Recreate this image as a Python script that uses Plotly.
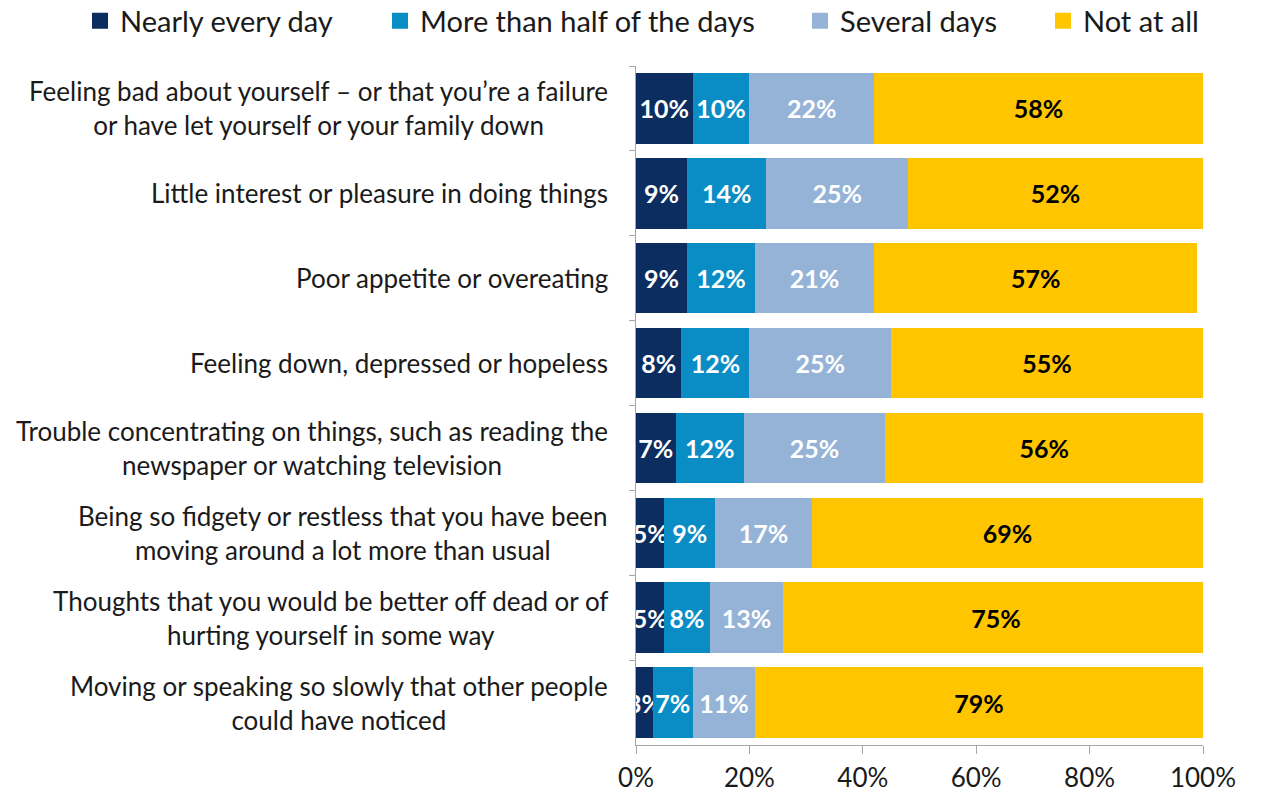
import plotly.graph_objects as go

# Symptom items, top to bottom
items = [
    "Feeling bad about yourself – or that you’re a failure<br>or have let yourself or your family down",
    "Little interest or pleasure in doing things",
    "Poor appetite or overeating",
    "Feeling down, depressed or hopeless",
    "Trouble concentrating on things, such as reading the<br>newspaper or watching television",
    "Being so fidgety or restless that you have been<br>moving around a lot more than usual",
    "Thoughts that you would be better off dead or of<br>hurting yourself in some way",
    "Moving or speaking so slowly that other people<br>could have noticed",
]

nearly_every_day = [10, 9, 9, 8, 7, 5, 5, 3]
more_than_half = [10, 14, 12, 12, 12, 9, 8, 7]
several_days = [22, 25, 21, 25, 25, 17, 13, 11]
not_at_all = [58, 52, 57, 55, 56, 69, 75, 79]

series = [
    ("Nearly every day", nearly_every_day, "#0B2D5F", "white"),
    ("More than half of the days", more_than_half, "#0A8DC5", "white"),
    ("Several days", several_days, "#95B3D7", "white"),
    ("Not at all", not_at_all, "#FFC600", "black"),
]

x_ticks = [0, 20, 40, 60, 80, 100]
x_tick_labels = [f"{t}%" for t in x_ticks]

FONT = "Lato, 'Open Sans', sans-serif"
TEXT_COLOR = "#1a1a1a"

# left edge (in container pixels) of each legend box along the top
legend_left_px = [80, 380, 800, 1043]
W, H = 1261, 792

fig = go.Figure()
for i, (name, vals, color, txtcol) in enumerate(series):
    fig.add_trace(go.Bar(
        y=items,
        x=vals,
        name=name,
        orientation="h",
        marker=dict(color=color, line=dict(width=0)),
        text=[f"{v}%" for v in vals],
        textposition="inside",
        insidetextanchor="middle",
        textangle=0,
        constraintext="none",
        textfont=dict(family=FONT, size=25, color=txtcol, weight="bold"),
        hoverinfo="skip",
        showlegend=False,
    ))

# legend keys: square markers, one legend box per series
for i, (name, _, color, _) in enumerate(series):
    legend_id = "legend" if i == 0 else f"legend{i + 1}"
    fig.add_trace(go.Scatter(
        x=[None], y=[None],
        mode="markers",
        name=name,
        marker=dict(symbol="square", size=16, color=color),
        legend=legend_id,
        showlegend=True,
        hoverinfo="skip",
    ))

layout_legends = {}
for i in range(len(series)):
    key = "legend" if i == 0 else f"legend{i + 1}"
    layout_legends[key] = dict(
        x=legend_left_px[i] / W, y=1 - 21 / H, xref="container", yref="container",
        xanchor="left", yanchor="middle",
        orientation="h",
        font=dict(family=FONT, size=29, color=TEXT_COLOR),
        bgcolor="rgba(0,0,0,0)",
        itemwidth=30,
        tracegroupgap=0,
        itemsizing="trace",
    )

# category labels as annotations so two-line labels are centered line by line
annotations = []
for item in items:
    annotations.append(dict(
        x=-0.045, xref="paper", y=item, yref="y",
        text=item, showarrow=False,
        xanchor="right", yanchor="middle", align="center",
        font=dict(family=FONT, size=26, color=TEXT_COLOR),
    ))

fig.update_layout(
    barmode="stack",
    bargap=0.17,
    width=W, height=H,
    margin=dict(l=636, r=58, t=66, b=47, autoexpand=False),
    paper_bgcolor="white",
    plot_bgcolor="white",
    showlegend=True,
    uniformtext=dict(mode="show", minsize=25),
    annotations=annotations,
    **layout_legends,
)

fig.update_xaxes(
    range=[0, 100],
    tickvals=x_ticks,
    ticktext=x_tick_labels,
    showgrid=False,
    zeroline=False,
    showline=True, linecolor="#A6A6A6", linewidth=1,
    ticks="outside", ticklen=8, tickcolor="#A6A6A6",
    ticklabelstandoff=2,
    tickfont=dict(family=FONT, size=26, color=TEXT_COLOR),
    fixedrange=True,
)
fig.update_yaxes(
    autorange="reversed",
    showticklabels=False,
    showgrid=False,
    showline=True, linecolor="#A6A6A6", linewidth=1,
    ticks="outside", ticklen=6, tickcolor="#A6A6A6",
    tickson="boundaries",
    fixedrange=True,
)

fig.write_html("out.html")
